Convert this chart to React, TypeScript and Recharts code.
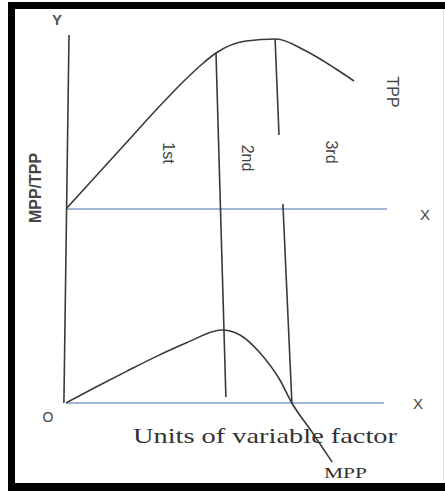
import { ComposedChart, Line, XAxis, YAxis, ReferenceLine } from 'recharts'

// units of the variable factor and total / marginal physical product
const tppUnits = [0, 1, 2, 3, 4, 4.5, 5, 6, 7, 8, 9, 9.6]
const tppValues = [0, 8.25, 16.5, 24.75, 32.5, 36, 39, 42, 42.5, 39.5, 35, 32]
const mppUnits = [0, 1, 2, 3, 4, 5.2, 5.8, 6.47, 7.13, 7.53, 8.2, 8.87]
const mppValues = [0, 8, 15.7, 23.2, 30, 36.5, 34, 25, 11.5, 0, -14.5, -29.5]

// stage boundaries (x in units, y in the axis of the panel they are drawn on)
const stage1Line = [{ x: 5, y: 39 }, { x: 5.33, y: -47 }]
const stage2Upper = [{ x: 6.97, y: 42.5 }, { x: 7.1, y: 18.5 }]
const stage2Lower = [{ x: 7.23, y: 99.5 }, { x: 7.53, y: 0 }]
const yAxisLine = [{ x: 0.1, y: 43.5 }, { x: -0.07, y: -48.5 }]
const tppBase = [{ x: 0, y: 0 }, { x: 10.7, y: 0 }]
const mppBase = [{ x: 0, y: 0 }, { x: 10.6, y: 0 }]

const stageLabels = ['1st', '2nd', '3rd']

const tppData = tppUnits.map((u, i) => ({ u, tpp: tppValues[i] }))
const mppData = mppUnits.map((u, i) => ({ u, mpp: mppValues[i] }))

const INK = '#3a3a3a'
const BLUE = '#7f9fc6'
const SANS = '"Liberation Sans", Arial, sans-serif'
const SERIF = '"Liberation Serif", "Times New Roman", serif'

export default function App() {
  return (
    <div style={{ position: 'absolute', left: 0, top: 0, width: 445, height: 491, background: '#fff', overflow: 'hidden' }}>
      {/* photo frame */}
      <div style={{ position: 'absolute', left: 8, top: 2, width: 437, height: 7, background: '#000' }} />
      <div style={{ position: 'absolute', left: 8, top: 2, width: 7, height: 489, background: '#000' }} />
      <div style={{ position: 'absolute', left: 8, top: 483, width: 437, height: 8, background: '#000' }} />
      <div style={{ position: 'absolute', left: 443, top: 9, width: 1, height: 474, background: '#e2e2e2' }} />

      <ComposedChart
        width={445}
        height={491}
        margin={{ top: 29, right: 19, bottom: 2, left: 66 }}
        style={{ position: 'absolute', left: 0, top: 0 }}
      >
        <XAxis dataKey="u" type="number" domain={[0, 12]} hide allowDataOverflow />
        <YAxis yAxisId="tpp" type="number" domain={[-70, 45]} hide allowDataOverflow />
        <YAxis yAxisId="mpp" type="number" domain={[-43, 187]} hide allowDataOverflow />

        <ReferenceLine yAxisId="tpp" segment={tppBase} stroke={BLUE} strokeWidth={1.6} ifOverflow="visible" />
        <ReferenceLine yAxisId="mpp" segment={mppBase} stroke={BLUE} strokeWidth={1.6} ifOverflow="visible" />
        <ReferenceLine yAxisId="tpp" segment={yAxisLine} stroke={INK} strokeWidth={1.6} ifOverflow="visible" />
        <ReferenceLine yAxisId="tpp" segment={stage1Line} stroke={INK} strokeWidth={1.6} ifOverflow="visible" />
        <ReferenceLine yAxisId="tpp" segment={stage2Upper} stroke={INK} strokeWidth={1.6} ifOverflow="visible" />
        <ReferenceLine yAxisId="mpp" segment={stage2Lower} stroke={INK} strokeWidth={1.6} ifOverflow="visible" />

        <Line
          yAxisId="tpp"
          data={tppData}
          dataKey="tpp"
          type="monotone"
          stroke={INK}
          strokeWidth={1.6}
          dot={false}
          isAnimationActive={false}
        />
        <Line
          yAxisId="mpp"
          data={mppData}
          dataKey="mpp"
          type="monotone"
          stroke={INK}
          strokeWidth={1.6}
          dot={false}
          isAnimationActive={false}
        />
      </ComposedChart>

      <svg width={445} height={491} style={{ position: 'absolute', left: 0, top: 0, pointerEvents: 'none' }}>
        <g fontFamily={SANS} fill="#444">
          <text x={57} y={25} fontSize={15} fontWeight="bold" textAnchor="middle" fill="#555">Y</text>
          <text x={48} y={422} fontSize={14} textAnchor="middle">O</text>
          <text x={425} y={220} fontSize={15} textAnchor="middle">X</text>
          <text x={418} y={409} fontSize={15} textAnchor="middle">X</text>
          <text transform="translate(392,92) rotate(90)" fontSize={16} textAnchor="middle" dominantBaseline="central">TPP</text>
          <text transform="translate(168,153) rotate(90)" fontSize={16} textAnchor="middle" dominantBaseline="central">{stageLabels[0]}</text>
          <text transform="translate(247,158) rotate(90)" fontSize={16} textAnchor="middle" dominantBaseline="central">{stageLabels[1]}</text>
          <text transform="translate(331,152) rotate(90)" fontSize={16} textAnchor="middle" dominantBaseline="central">{stageLabels[2]}</text>
          <text transform="translate(35,188) rotate(-90)" fontSize={16} fontWeight="bold" textAnchor="middle" dominantBaseline="central">MPP/TPP</text>
        </g>
        <g fontFamily={SERIF} fill="#333">
          <text x={133} y={443} fontSize={21} textLength={264} lengthAdjust="spacingAndGlyphs">Units of variable factor</text>
          <text x={324} y={478} fontSize={14} textLength={43} lengthAdjust="spacingAndGlyphs">MPP</text>
        </g>
      </svg>
    </div>
  )
}
